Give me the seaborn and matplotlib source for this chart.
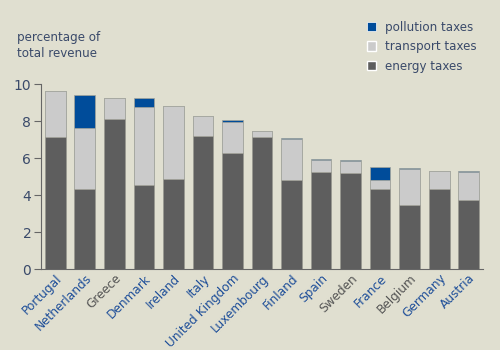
import pandas as pd
import matplotlib
matplotlib.use("Agg")
import matplotlib.pyplot as plt
import seaborn as sns
from matplotlib.patches import Patch

countries = ["Portugal", "Netherlands", "Greece", "Denmark", "Ireland", "Italy",
             "United Kingdom", "Luxembourg", "Finland", "Spain", "Sweden",
             "France", "Belgium", "Germany", "Austria"]
energy = [7.15, 4.35, 8.12, 4.52, 4.89, 7.20, 6.29, 7.15, 4.82, 5.25, 5.18,
          4.32, 3.49, 4.34, 3.73]
transport = [2.47, 3.28, 1.13, 4.24, 3.93, 1.08, 1.67, 0.32, 2.21, 0.63, 0.66,
             0.52, 1.90, 0.98, 1.50]
pollution = [0.0, 1.78, 0.0, 0.49, 0.0, 0.0, 0.10, 0.0, 0.04, 0.07, 0.06,
             0.68, 0.08, 0.0, 0.06]
label_colors = ["#1f4f99", "#1f4f99", "#555555", "#1f4f99", "#1f4f99",
                "#1f4f99", "#1f4f99", "#1f4f99", "#1f4f99", "#1f4f99",
                "#555555", "#1f4f99", "#555555", "#1f4f99", "#1f4f99"]

BG = "#e0dfd0"
C_ENERGY = "#5e5e5e"
C_TRANS = "#cbcbcb"
C_POLL = "#004c9a"

df = pd.DataFrame({"country": countries, "energy": energy,
                   "transport": transport, "pollution": pollution})
df["et"] = df["energy"] + df["transport"]
df["total"] = df["et"] + df["pollution"]

sns.set_style("white")
plt.rcParams["font.family"] = ["DejaVu Sans"]

fig = plt.figure(figsize=(5, 3.5), dpi=100, facecolor=BG)
ax = fig.add_axes([0.082, 0.231, 0.884, 0.529], facecolor=BG)

# stacked bars: draw cumulative totals back to front
for col, color in [("total", C_POLL), ("et", C_TRANS), ("energy", C_ENERGY)]:
    sns.barplot(data=df, x="country", y=col, color=color, width=0.71,
                edgecolor="#a4a49a", linewidth=0.5, saturation=1, ax=ax)

ax.set_xlim(-0.49, 14.49)
ax.set_ylim(0, 10)
ax.set_yticks([0, 2, 4, 6, 8, 10])
ax.set_xlabel("")
ax.set_ylabel("")
for s in ["top", "right"]:
    ax.spines[s].set_visible(False)
for s in ["left", "bottom"]:
    ax.spines[s].set_color("#666666")
    ax.spines[s].set_linewidth(0.8)
ax.spines["left"].set_linestyle((0, (1, 1)))
ax.tick_params(axis="y", direction="out", length=5, width=0.8, color="#666666",
               labelsize=10, labelcolor="#3a4a6a", pad=2, left=True)
ax.tick_params(axis="x", length=0, pad=2)
ax.set_xticks(range(len(countries)))
ax.set_xticklabels(countries, rotation=45, ha="right", rotation_mode="anchor",
                   fontsize=8.7)
for lbl, c in zip(ax.get_xticklabels(), label_colors):
    lbl.set_color(c)

fig.text(0.034, 0.87, "percentage of\ntotal revenue", fontsize=8.6,
         color="#3a4a6a", ha="left", va="center", linespacing=1.35)

handles = [Patch(facecolor=C_POLL, edgecolor="white", linewidth=0.5),
           Patch(facecolor=C_TRANS), Patch(facecolor=C_ENERGY)]
leg = fig.legend(handles, ["pollution taxes", "transport taxes", "energy taxes"],
                 loc="upper left", bbox_to_anchor=(0.712, 0.972), frameon=False,
                 fontsize=8.6, handlelength=0.8, handleheight=0.8,
                 handletextpad=0.7, labelspacing=0.55)
for t in leg.get_texts():
    t.set_color("#3a4a6a")

fig.savefig("out.png", dpi=100, facecolor=BG)
